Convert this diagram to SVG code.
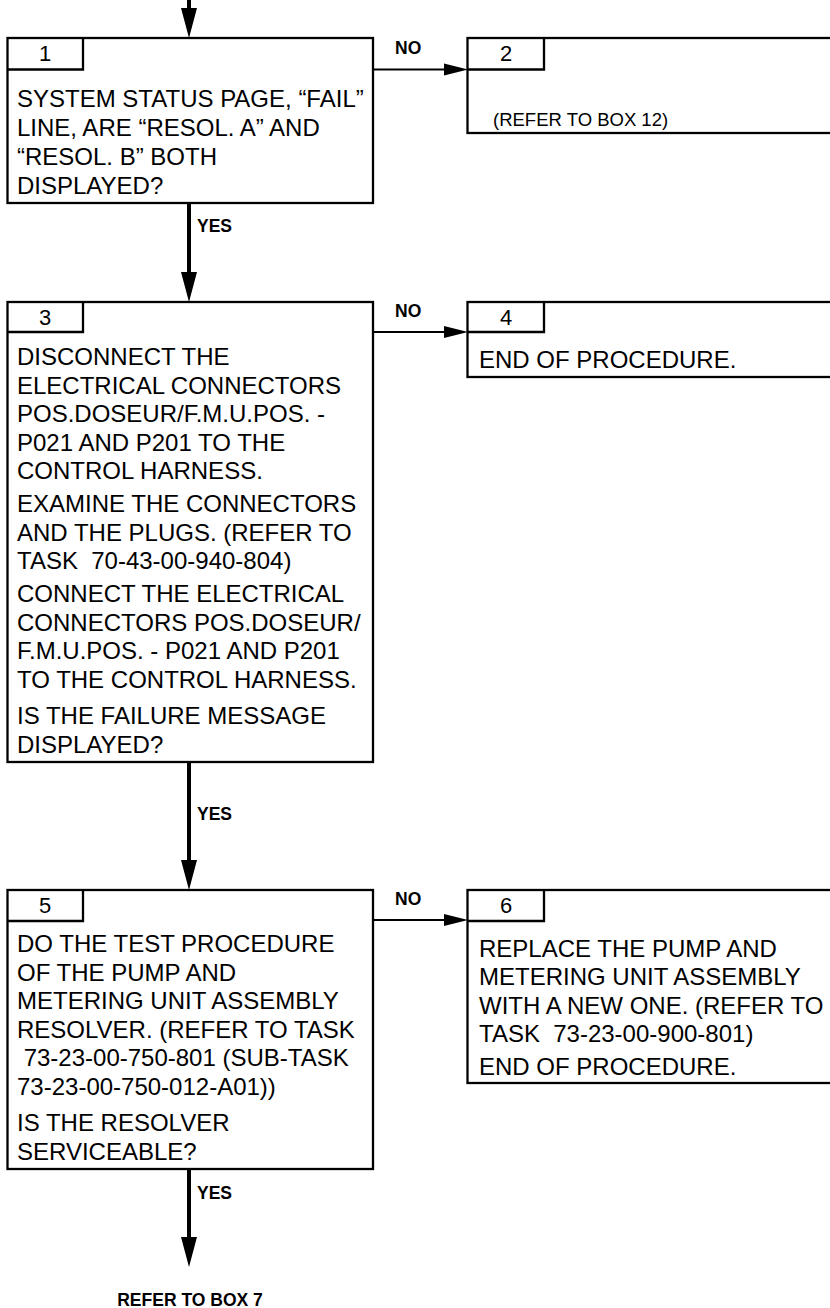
<svg xmlns="http://www.w3.org/2000/svg" width="830" height="1308" viewBox="0 0 830 1308">
<style>
.box{fill:#fff;stroke:#000;stroke-width:2.3}
.tab{fill:none;stroke:#000;stroke-width:2.3}
.t{font-family:"Liberation Sans",Arial,sans-serif;font-size:24px;fill:#000;white-space:pre}
.ts{font-family:"Liberation Sans",Arial,sans-serif;font-size:18.5px;fill:#000}
.num{font-family:"Liberation Sans",Arial,sans-serif;font-size:22px;fill:#000;text-anchor:middle}
.lbl{font-family:"Liberation Sans",Arial,sans-serif;font-size:17.5px;font-weight:bold;fill:#000}
.v{fill:none;stroke:#000;stroke-width:4;marker-end:url(#av)}
.h{fill:none;stroke:#000;stroke-width:2;marker-end:url(#ah)}
</style>
<defs>
<marker id="av" viewBox="0 -8 30 16" markerWidth="30" markerHeight="16" refX="0" refY="0" orient="auto" markerUnits="userSpaceOnUse" overflow="visible"><path d="M0,-8 L30,0 L0,8 Z" fill="#000"/></marker>
<marker id="ah" viewBox="0 -6 24 12" markerWidth="24" markerHeight="12" refX="0" refY="0" orient="auto" markerUnits="userSpaceOnUse" overflow="visible"><path d="M0,-6 L24,0 L0,6 Z" fill="#000"/></marker>
</defs>
<g id="connectors">
<path class="v" d="M189,0 V8"/>
<path class="h" d="M373,69.5 H444"/>
<text class="lbl" x="395" y="54">NO</text>
<path class="v" d="M189,203 V272"/>
<text class="lbl" x="197" y="232">YES</text>
<path class="h" d="M373,332 H444"/>
<text class="lbl" x="395" y="317">NO</text>
<path class="v" d="M189,762 V860"/>
<text class="lbl" x="197" y="820">YES</text>
<path class="h" d="M373,920 H444"/>
<text class="lbl" x="395" y="905">NO</text>
<path class="v" d="M189,1169 V1237"/>
<text class="lbl" x="197" y="1199">YES</text>
<text class="lbl" x="190" y="1306" text-anchor="middle">REFER TO BOX 7</text>
</g>
<g id="box1">
<rect class="box" x="7.5" y="38" width="365.5" height="165"/>
<path class="tab" d="M7.5,69.5 H83 V38"/>
<text class="num" x="45" y="61">1</text>
<text class="t" x="17" y="107">SYSTEM STATUS PAGE, “FAIL”</text>
<text class="t" x="17" y="136">LINE, ARE “RESOL. A” AND</text>
<text class="t" x="17" y="165">“RESOL. B” BOTH</text>
<text class="t" x="17" y="194">DISPLAYED?</text>
</g>
<g id="box2">
<rect class="box" x="467.5" y="38" width="380" height="95"/>
<path class="tab" d="M467.5,69.5 H544 V38"/>
<text class="num" x="506" y="61">2</text>
<text class="ts" x="493" y="126">(REFER TO BOX 12)</text>
</g>
<g id="box3">
<rect class="box" x="7.5" y="302" width="365.5" height="460"/>
<path class="tab" d="M7.5,332 H83 V302"/>
<text class="num" x="45" y="325">3</text>
<text class="t" x="17" y="365">DISCONNECT THE</text>
<text class="t" x="17" y="393.5">ELECTRICAL CONNECTORS</text>
<text class="t" x="17" y="422">POS.DOSEUR/F.M.U.POS. -</text>
<text class="t" x="17" y="450.5">P021 AND P201 TO THE</text>
<text class="t" x="17" y="479">CONTROL HARNESS.</text>
<text class="t" x="17" y="512">EXAMINE THE CONNECTORS</text>
<text class="t" x="17" y="540.5">AND THE PLUGS. (REFER TO</text>
<text class="t" x="17" y="569">TASK  70-43-00-940-804)</text>
<text class="t" x="17" y="602">CONNECT THE ELECTRICAL</text>
<text class="t" x="17" y="630.5">CONNECTORS POS.DOSEUR/</text>
<text class="t" x="17" y="659">F.M.U.POS. - P021 AND P201</text>
<text class="t" x="17" y="687.5">TO THE CONTROL HARNESS.</text>
<text class="t" x="17" y="724">IS THE FAILURE MESSAGE</text>
<text class="t" x="17" y="752.5">DISPLAYED?</text>
</g>
<g id="box4">
<rect class="box" x="467.5" y="302" width="380" height="75"/>
<path class="tab" d="M467.5,332 H544 V302"/>
<text class="num" x="506" y="325">4</text>
<text class="t" x="479" y="368">END OF PROCEDURE.</text>
</g>
<g id="box5">
<rect class="box" x="7.5" y="890" width="365.5" height="279"/>
<path class="tab" d="M7.5,921 H83 V890"/>
<text class="num" x="45" y="913">5</text>
<text class="t" x="17" y="952">DO THE TEST PROCEDURE</text>
<text class="t" x="17" y="980.5">OF THE PUMP AND</text>
<text class="t" x="17" y="1009">METERING UNIT ASSEMBLY</text>
<text class="t" x="17" y="1037.5">RESOLVER. (REFER TO TASK</text>
<text class="t" x="17" y="1066"> 73-23-00-750-801 (SUB-TASK</text>
<text class="t" x="17" y="1094.5">73-23-00-750-012-A01))</text>
<text class="t" x="17" y="1131">IS THE RESOLVER</text>
<text class="t" x="17" y="1160">SERVICEABLE?</text>
</g>
<g id="box6">
<rect class="box" x="467.5" y="890" width="380" height="193"/>
<path class="tab" d="M467.5,921 H544 V890"/>
<text class="num" x="506" y="913">6</text>
<text class="t" x="479" y="957">REPLACE THE PUMP AND</text>
<text class="t" x="479" y="985">METERING UNIT ASSEMBLY</text>
<text class="t" x="479" y="1013.5">WITH A NEW ONE. (REFER TO</text>
<text class="t" x="479" y="1042">TASK  73-23-00-900-801)</text>
<text class="t" x="479" y="1075">END OF PROCEDURE.</text>
</g>
</svg>
